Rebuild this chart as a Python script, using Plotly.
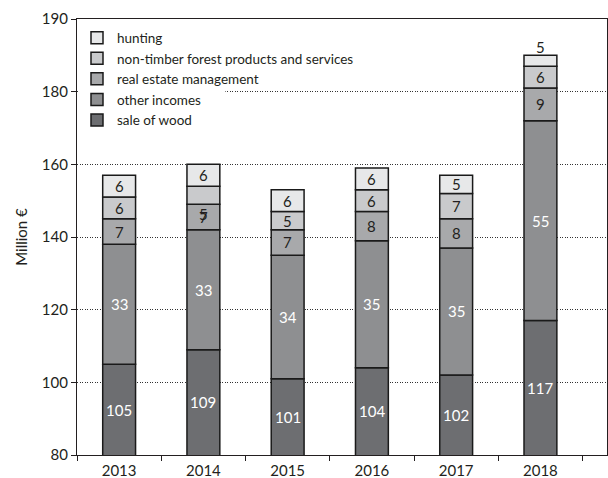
import plotly.graph_objects as go

years = ["2013", "2014", "2015", "2016", "2017", "2018"]
sale_of_wood = [105, 109, 101, 104, 102, 117]
other_incomes = [33, 33, 34, 35, 35, 55]
real_estate = [7, 7, 7, 8, 8, 9]
non_timber = [6, 5, 5, 6, 7, 6]
hunting = [6, 6, 6, 6, 5, 3]
hunting_labels = [6, 6, 6, 6, 5, 5]

y_tickvals = [80, 100, 120, 140, 160, 180, 200]
y_ticktext = ["80", "100", "120", "140", "160", "180", "190"]

series = [
    ("sale of wood", sale_of_wood, sale_of_wood, "#6d6e71", "white"),
    ("other incomes", other_incomes, other_incomes, "#8e8f91", "white"),
    ("real estate management", real_estate, real_estate, "#a8a9ab", "#231f20"),
    ("non-timber forest products and services", non_timber, non_timber, "#c9cacc", "#231f20"),
    ("hunting", hunting, hunting_labels, "#e7e8e9", "#231f20"),
]

FONT = "Lato"
fig = go.Figure()
base = [0] * len(years)
annotations = []
bases = {}
for name, vals, labels, color, tcol in series:
    fig.add_trace(go.Bar(
        x=years, y=vals, base=base, name=name, width=0.39,
        marker=dict(color=color, line=dict(color="#1a1a1a", width=1.5)),
    ))
    bases[name] = list(base)
    for i, (y0, v, lab) in enumerate(zip(base, vals, labels)):
        ypos = y0 + v / 2
        yanchor = "middle"
        yshift = 0
        if name == "hunting" and v < 4:
            ypos = y0 + v
            yanchor = "bottom"
            yshift = -3
        if name == "non-timber forest products and services" and years[i] == "2014":
            rb = bases["real estate management"][i]
            ypos = rb + real_estate[i] / 2
            yshift = 3
        if name == "sale of wood":
            ypos = 80 + (y0 + v - 80) / 2
        annotations.append(dict(
            x=i, y=ypos, xref="x", yref="y", text=str(lab), showarrow=False,
            yanchor=yanchor, yshift=yshift,
            font=dict(family=FONT, size=15, color=tcol),
        ))
    base = [b + v for b, v in zip(base, vals)]

fig.update_layout(
    width=608, height=478,
    margin=dict(l=77, r=1, t=19, b=23, pad=0),
    paper_bgcolor="white", plot_bgcolor="white",
    barmode="overlay",
    font=dict(family=FONT, size=15, color="#231f20"),
    showlegend=True,
    legend=dict(
        x=0.0, y=0.992, xanchor="left", yanchor="top",
        traceorder="reversed", bgcolor="rgba(0,0,0,0)",
        font=dict(family=FONT, size=13.5, color="#231f20"),
        itemwidth=30, tracegroupgap=0,
    ),
    annotations=annotations,
    shapes=[dict(
        type="rect", xref="paper", yref="y", x0=0.004, x1=0.28, y0=178.5, y1=181.5,
        fillcolor="white", line=dict(width=0), layer="above",
    )],
)
fig.update_xaxes(
    type="category", range=[-0.5, 5.79], tickson="boundaries",
    ticks="outside", ticklen=5, tickcolor="#231f20",
    showline=True, linecolor="#231f20", linewidth=1.3, mirror=True,
    showgrid=False, tickfont=dict(family=FONT, size=15),
    ticklabelstandoff=2, automargin=False,
)
fig.update_yaxes(
    range=[80, 200], tickvals=y_tickvals, ticktext=y_ticktext,
    ticks="outside", ticklen=5, tickcolor="#231f20",
    showline=True, linecolor="#231f20", linewidth=1.3, mirror=True,
    showgrid=True, gridcolor="#333333", griddash="1px,1.5px", gridwidth=1,
    zeroline=False, tickfont=dict(family=FONT, size=15), automargin=False,
    title=dict(text="Million €", font=dict(family=FONT, size=15), standoff=10),
)
fig.write_html("out.html", config={"displayModeBar": False},
               post_script="document.body.style.margin='0';")
